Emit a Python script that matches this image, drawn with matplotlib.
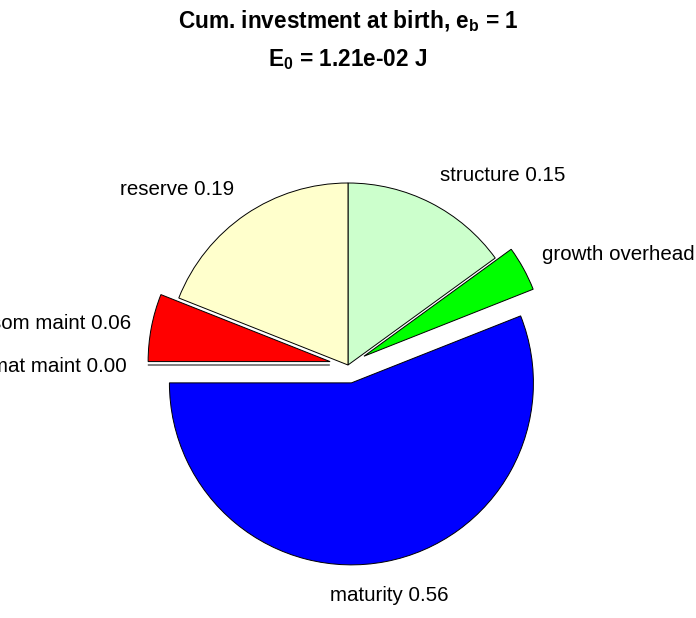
import matplotlib
matplotlib.use("Agg")
import matplotlib.pyplot as plt
import numpy as np

plt.rcParams['font.family'] = ['Liberation Sans', 'DejaVu Sans']
plt.rcParams['mathtext.fontset'] = 'custom'
plt.rcParams['mathtext.rm'] = 'Liberation Sans'
plt.rcParams['mathtext.bf'] = 'Liberation Sans:bold'

# fractions of cumulative investment at birth (clockwise from top)
names = ['structure', 'growth overhead', 'maturity', 'mat maint', 'som maint', 'reserve']
fracs = [0.15, 0.04, 0.56, 0.00, 0.06, 0.19]
explode = [0, 0.1, 0.1, 0.1, 0.1, 0]
colors = [(0.8, 1, 0.8), (0, 1, 0), (0, 0, 1), (1, 0, 1), (1, 0, 0), (1, 1, 0.8)]
labels = [f'{n} {v:.2f}' for n, v in zip(names, fracs)]

fig = plt.figure(figsize=(6.96, 6.18), dpi=100)
ax = fig.add_axes([0, 0, 1, 1])

wedges, texts = ax.pie(fracs, explode=explode, colors=colors, labels=labels,
                       startangle=90, counterclock=False, labeldistance=1.15,
                       normalize=False,
                       wedgeprops=dict(edgecolor='black', linewidth=0.7),
                       textprops=dict(fontsize=14.8))

r = 182.0
cx, cy = 348.0, 365.0

# matlab puts the labels a bit closer sideways and further up/down
lx, ly = 1.115, 1.18
for w, t in zip(wedges, texts):
    mid = np.deg2rad((w.theta1 + w.theta2) / 2)
    x0, y0 = w.center
    x = x0 + lx * np.cos(mid)
    y = y0 + ly * np.sin(mid) - 2 / r
    t.set_position((x, y))
    if abs(np.cos(mid)) < 0.4:
        t.set_ha('center')

ax.set_aspect('auto')
ax.set_xlim(-cx / r, (696 - cx) / r)
ax.set_ylim(-(618 - cy) / r, cy / r)
ax.axis('off')

fig.text(0.5, 1 - 21 / 618, r'Cum. investment at birth, $\mathbf{e_b}$ = 1',
         ha='center', va='center', fontsize=16.3, fontweight='bold')
fig.text(0.5, 1 - 60 / 618, r'$\mathbf{E_0}$ = 1.21e-02 J',
         ha='center', va='center', fontsize=16.3, fontweight='bold')

fig.savefig('out.png', dpi=100)
